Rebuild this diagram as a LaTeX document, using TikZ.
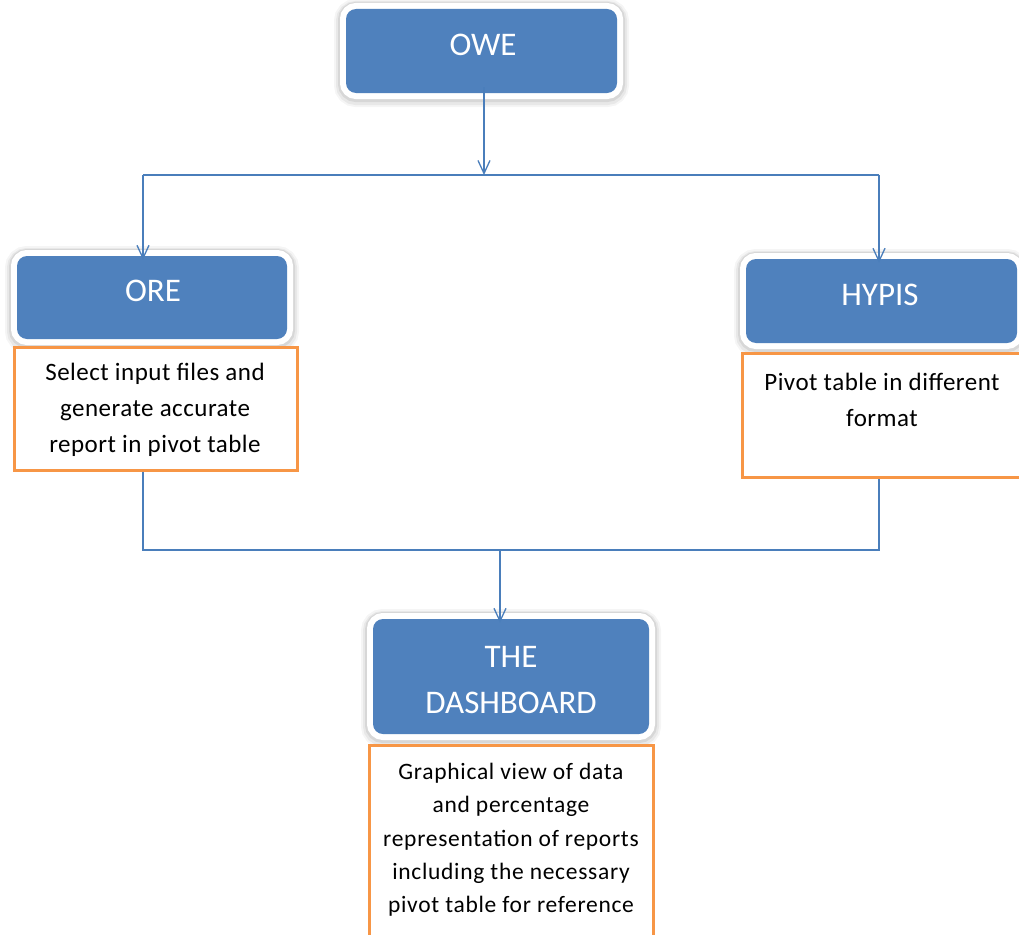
\documentclass[tikz,border=0pt]{standalone}
\usepackage{fontspec}
\setmainfont{Carlito}
\usetikzlibrary{arrows.meta}
\definecolor{boxblue}{HTML}{4F81BD}
\definecolor{lineblue}{HTML}{4A7EBB}
\definecolor{boxorange}{HTML}{F79646}
\tikzset{
  bluebox/.style={fill=boxblue, rounded corners=10pt, inner sep=0pt,
    preaction={draw=black, opacity=0.04, line width=24pt, transform canvas={yshift=-2pt}},
    preaction={draw=black, opacity=0.05, line width=20pt, transform canvas={yshift=-2pt}},
    preaction={draw=black, opacity=0.07, line width=16pt, transform canvas={yshift=-1pt}},
    preaction={draw=white, line width=12pt}},
  bluetext/.style={text=white, font=\fontsize{33}{46}\selectfont, align=center, inner sep=0pt},
  notebox/.style={draw=boxorange, line width=3pt, fill=white, inner sep=0pt},
  notetext/.style={text=black, align=center, inner sep=0pt},
  conn/.style={draw=lineblue, line width=1.3pt},
  arr/.style={conn, -{Straight Barb[length=13pt,width=12pt,line width=1.3pt]}}
}
\begin{document}
\begin{tikzpicture}[x=1pt,y=-1pt]
\useasboundingbox[fill=white] (0,0) rectangle (1019,934);

% process boxes
\node[bluebox, minimum width=271pt, minimum height=84pt] (owe) at (481.5,51) {};
\node[bluetext] (owet) at (483,45) {OWE};

\node[bluebox, minimum width=270pt, minimum height=83pt] (ore) at (152,297.5) {};
\node[bluetext] (oret) at (153,291) {ORE};

\node[bluebox, minimum width=271pt, minimum height=84pt] (hyp) at (881.5,301) {};
\node[bluetext] (hypt) at (880,295) {HYPIS};

\node[bluebox, minimum width=276pt, minimum height=115pt] (dash) at (511,676.5) {};
\node[bluetext] (dasht) at (511,680) {THE\\DASHBOARD};

% description boxes
\node[notebox, minimum width=283pt, minimum height=123pt] (oren) at (155.5,408.5) {};
\node[notetext, font=\fontsize{25}{36}\selectfont\addfontfeature{LetterSpace=2}] (orent) at (155,410)
  {Select input files and\\generate accurate\\report in pivot table};

\node[notebox, minimum width=283pt, minimum height=124pt] (hypn) at (883.5,415) {};
\node[notetext, font=\fontsize{25}{36}\selectfont\addfontfeature{LetterSpace=2}] (hypnt) at (882,400)
  {Pivot table in different\\format};

\node[notebox, minimum width=284pt, minimum height=215pt] (dashn) at (511,852.5) {};
\node[notetext, font=\fontsize{23.5}{33.3}\selectfont\addfontfeature{LetterSpace=3}] (dashnt) at (511,840)
  {Graphical view of data\\and percentage\\representation of reports\\including the necessary\\pivot table for reference};

% split from OWE to the two sources
\coordinate (split) at (484,175);
\coordinate (lft) at (143,175);
\coordinate (rgt) at (879,175);
\draw[arr] ([yshift=6pt]split |- owe.south) -- (split);
\draw[conn] (lft) -- (rgt);
\draw[arr] (lft) -- ([yshift=-4pt]lft |- ore.north);
\draw[arr] (rgt) -- ([yshift=-4pt]rgt |- hyp.north);

% merge of the two sources into the dashboard
\coordinate (merge) at (500,550);
\coordinate (mlft) at (143,550);
\coordinate (mrgt) at (879,550);
\draw[conn] (mlft |- oren.south) -- (mlft) -- (mrgt) -- (mrgt |- hypn.south);
\draw[arr] (merge) -- ([yshift=-4pt]merge |- dash.north);
\end{tikzpicture}
\end{document}
